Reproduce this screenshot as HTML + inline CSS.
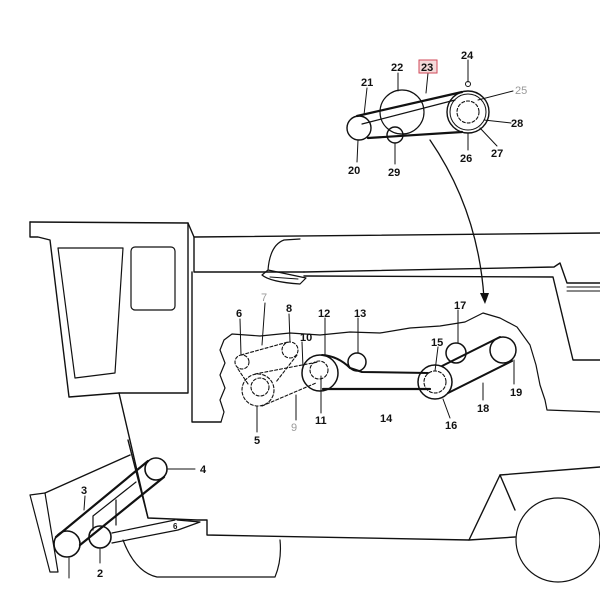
<!DOCTYPE html>
<html><head><meta charset="utf-8"><style>
html,body{margin:0;padding:0;background:#fff}
svg{display:block}
text{font-family:"Liberation Sans",sans-serif;font-size:11px;font-weight:bold;fill:#111}
</style></head><body>
<svg width="600" height="600" viewBox="0 0 600 600" xmlns="http://www.w3.org/2000/svg">
<g fill="none" stroke="#111" stroke-width="1.4" stroke-linejoin="round" stroke-linecap="round">
<!-- Top inset -->
<circle cx="402" cy="112" r="22" stroke-width="1.2"/>
<circle cx="359" cy="128" r="12"/>
<circle cx="395" cy="135" r="8"/>
<circle cx="468" cy="112" r="21"/>
<circle cx="468" cy="112" r="18" stroke-width="1"/>
<circle cx="468" cy="112" r="11" stroke-dasharray="3,2" stroke-width="1.1"/>
<circle cx="468" cy="84" r="2.5" stroke-width="1"/>
<line x1="357" y1="116" x2="462" y2="92" stroke-width="2.2"/>
<line x1="362" y1="124" x2="455" y2="100" stroke-width="1.2"/>
<line x1="368" y1="138" x2="462" y2="132" stroke-width="2.2"/>
<line x1="355" y1="82" x2="368" y2="82" stroke="none"/>
<line x1="367" y1="88" x2="364" y2="115" stroke-width="1"/>
<line x1="398" y1="73" x2="398" y2="91" stroke-width="1"/>
<line x1="428" y1="73" x2="426" y2="93" stroke-width="1"/>
<line x1="468" y1="60" x2="468" y2="82" stroke-width="1"/>
<line x1="478" y1="100" x2="513" y2="91" stroke-width="1"/>
<line x1="484" y1="120" x2="511" y2="123" stroke-width="1"/>
<line x1="480" y1="128" x2="497" y2="146" stroke-width="1"/>
<line x1="468" y1="133" x2="468" y2="150" stroke-width="1"/>
<line x1="358" y1="140" x2="357" y2="162" stroke-width="1"/>
<line x1="395" y1="143" x2="395" y2="164" stroke-width="1"/>
<!-- arrow -->
<path d="M430 140 Q478 210 484 298" stroke-width="1.3"/>
<!-- cab -->
<path d="M30 222 L188 223 L188 393 L119 393 L148 518 L197 520 L207 520 L207 535 L469 540 L500 475 L600 467"/>
<path d="M30 222 L30 237 L38 237 L50 240 L69 397 L119 393"/>
<path d="M58 248 L123 248 L115 373 L75 378 Z" stroke-width="1.2"/>
<rect x="131" y="247" width="44" height="63" rx="4" stroke-width="1.2"/>
<!-- body -->
<path d="M194 237 L600 233"/>
<path d="M188 223 L194 237 L194 272 L304 272"/>
<path d="M192 272 L192 422 L221 422"/>
<path d="M304 272 L554 267 L560 263 L567 283 L600 283"/>
<path d="M567 287 L600 287 M567 291 L600 291" stroke-width="1"/>
<path d="M304 276 L553 277 L573 360 L600 360"/>
<path d="M268 270 Q270 245 284 240 L300 239 M262 275 Q270 282 300 284 L306 278 L268 270 Z" stroke-width="1.2"/>
<path d="M270 277 L298 279" stroke-width="1"/>
<!-- wavy cutout -->
<path d="M221 422 L224 412 L220 400 L225 388 L220 375 L225 363 L220 350 L224 340 L232 334 L260 336 L290 333 L320 335 L350 332 L380 333 L410 328 L440 326 L465 322 L483 313 L500 318 L517 327 L530 345 L536 365 L540 385 L545 400 L547 410 L600 412" stroke-width="1.2"/>
<!-- rear wheel & front wheel -->
<path d="M123 540 Q135 572 157 577 L275 577 Q282 560 280 540" stroke-width="1.2"/>
<circle cx="558" cy="540" r="42" stroke-width="1.2"/>
<path d="M469 540 L515 537 M500 475 L515 510"/>
<!-- feeder -->
<path d="M30 495 L45 493 L58 572 L50 572 Z" stroke-width="1.2"/>
<path d="M45 493 L130 455"/>
<path d="M128 440 L148 518"/>
<circle cx="67" cy="544" r="13" stroke-width="1.6"/>
<circle cx="100" cy="537" r="11" stroke-width="1.6"/>
<circle cx="156" cy="469" r="11" stroke-width="1.6"/>
<line x1="56" y1="537" x2="148" y2="461" stroke-width="2.2"/>
<line x1="80" y1="545" x2="164" y2="477" stroke-width="2.2"/>
<path d="M93 516 L93 530 M93 516 L136 482 M116 500 L116 525" stroke-width="1.2"/>
<path d="M112 533 L175 520 M112 543 L178 530 L200 522 L177 520" stroke-width="1.2"/>
<line x1="168" y1="469" x2="195" y2="469" stroke-width="1"/>
<line x1="85" y1="496" x2="84" y2="510" stroke-width="1"/>
<line x1="69" y1="558" x2="69" y2="578" stroke-width="1"/>
<line x1="100" y1="549" x2="100" y2="563" stroke-width="1"/>
<!-- middle dashed group -->
<g stroke-dasharray="3,2" stroke-width="1.1">
<circle cx="242" cy="362" r="7"/>
<circle cx="290" cy="350" r="8"/>
<circle cx="258" cy="390" r="16"/>
<circle cx="260" cy="387" r="9"/>
<circle cx="319" cy="370" r="9"/>
<line x1="241" y1="355" x2="288" y2="342"/>
<line x1="238" y1="369" x2="248" y2="384"/>
<line x1="297" y1="355" x2="276" y2="382"/>
<line x1="255" y1="374" x2="318" y2="362"/>
<line x1="262" y1="406" x2="316" y2="383"/>
</g>
<circle cx="320" cy="373" r="18" stroke-width="1.5"/>
<circle cx="357" cy="362" r="9" stroke-width="1.5"/>
<circle cx="435" cy="382" r="17" stroke-width="1.5"/>
<circle cx="435" cy="382" r="11" stroke-dasharray="3,2" stroke-width="1.1"/>
<circle cx="456" cy="353" r="10" stroke-width="1.5"/>
<circle cx="503" cy="350" r="13" stroke-width="1.5"/>
<path d="M322 355 Q338 356 350 368 L362 372 L428 373" stroke-width="2"/>
<line x1="323" y1="389" x2="430" y2="389" stroke-width="2.2"/>
<line x1="442" y1="366" x2="500" y2="337" stroke-width="2"/>
<line x1="448" y1="393" x2="512" y2="361" stroke-width="2"/>
<!-- leaders -->
<g stroke-width="1">
<line x1="240" y1="319" x2="241" y2="355"/>
<line x1="265" y1="303" x2="262" y2="345"/>
<line x1="289" y1="314" x2="290" y2="342"/>
<line x1="302" y1="342" x2="303" y2="368"/>
<line x1="325" y1="318" x2="325" y2="355"/>
<line x1="358" y1="318" x2="358" y2="353"/>
<line x1="257" y1="406" x2="257" y2="432"/>
<line x1="296" y1="395" x2="296" y2="420"/>
<line x1="321" y1="376" x2="321" y2="413"/>
<line x1="438" y1="347" x2="435" y2="371"/>
<line x1="443" y1="399" x2="450" y2="418"/>
<line x1="458" y1="310" x2="458" y2="343"/>
<line x1="483" y1="383" x2="483" y2="400"/>
<line x1="514" y1="360" x2="514" y2="384"/>
</g>
</g>
<path d="M480 293 L485 304 L489 293 Z" fill="#111"/>
<!-- labels -->
<text x="361" y="86">21</text>
<text x="391" y="71">22</text>
<rect x="419" y="60" width="18" height="13" fill="#f4dada" stroke="#d04a5a" stroke-width="1"/>
<text x="421" y="71">23</text>
<text x="461" y="59">24</text>
<text x="515" y="94" style="fill:#999;font-weight:normal">25</text>
<text x="511" y="127">28</text>
<text x="491" y="157">27</text>
<text x="460" y="162">26</text>
<text x="348" y="174">20</text>
<text x="388" y="176">29</text>
<text x="236" y="317">6</text>
<text x="261" y="301" style="fill:#999;font-weight:normal">7</text>
<text x="286" y="312">8</text>
<text x="300" y="341">10</text>
<text x="318" y="317">12</text>
<text x="354" y="317">13</text>
<text x="454" y="309">17</text>
<text x="431" y="346">15</text>
<text x="254" y="444">5</text>
<text x="291" y="431" style="fill:#999;font-weight:normal">9</text>
<text x="315" y="424">11</text>
<text x="380" y="422">14</text>
<text x="445" y="429">16</text>
<text x="477" y="412">18</text>
<text x="510" y="396">19</text>
<text x="81" y="494">3</text>
<text x="200" y="473">4</text>
<text x="97" y="577">2</text>
<text x="173" y="529" style="font-size:8px">6</text>
</svg>
</body></html>
